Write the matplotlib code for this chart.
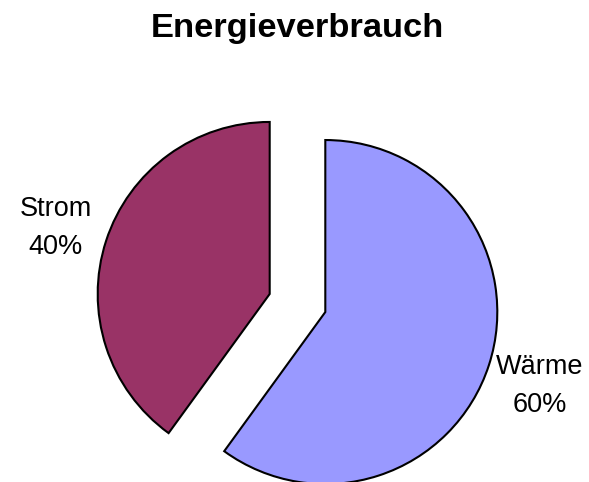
import matplotlib.pyplot as plt

TITLE = "Energieverbrauch"
labels = ["Wärme", "Strom"]
values = [60, 40]
colors = ["#9999FF", "#993366"]
explode = [0.17, 0.17]

plt.rcParams["font.family"] = ["Liberation Sans", "DejaVu Sans"]

W, H = 589, 482
R = 172.0                  # pie radius in pixels
CX, CY = 297.5, 179.0      # pie centre in pixels (from bottom-left)

fig = plt.figure(figsize=(W / 100, H / 100), dpi=100)
ax = fig.add_axes([0, 0, 1, 1])

total = sum(values)
texts = [f"{lab}\n{v / total:.0%}" for lab, v in zip(labels, values)]

wedges, label_texts = ax.pie(
    values, labels=texts, colors=colors, explode=explode,
    startangle=90, counterclock=False, labeldistance=1.31,
    wedgeprops=dict(edgecolor="black", linewidth=1.5),
    textprops=dict(fontsize=19.5, ha="center", va="center",
                   multialignment="center", linespacing=1.6))

# labels sit a touch lower in the original
for t in label_texts:
    x, y = t.get_position()
    t.set_position((x, y - 4 / R))

ax.set_xlim(-CX / R, (W - CX) / R)
ax.set_ylim(-CY / R, (H - CY) / R)
ax.axis("off")

fig.text(0.505, 1 - 28 / H, TITLE, ha="center", va="center",
         fontsize=24.8, fontweight="bold")

fig.savefig("out.png", dpi=100, facecolor="white")
